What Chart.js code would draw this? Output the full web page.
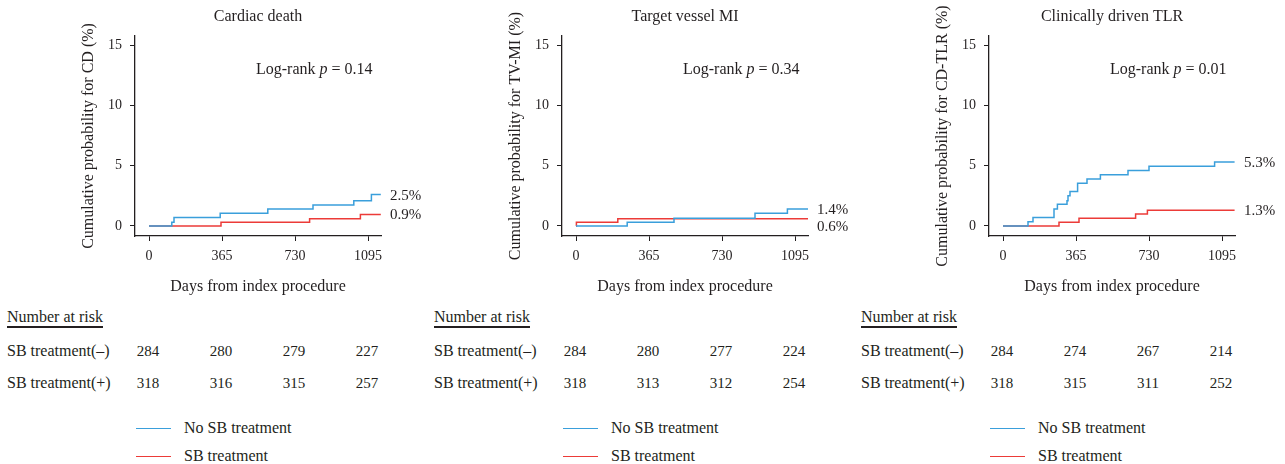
<!DOCTYPE html>
<html>
<head>
<meta charset="utf-8">
<script src="https://cdn.jsdelivr.net/npm/chart.js@4.4.0/dist/chart.umd.min.js"></script>
<style>
  html, body { margin: 0; padding: 0; background: #fff; }
  body { width: 1285px; height: 464px; position: relative; overflow: hidden;
         font-family: 'Liberation Serif', 'Times New Roman', serif; color: #231f20; }
  .cv { position: absolute; top: 0; width: 427px; height: 300px; }
  .t { position: absolute; white-space: nowrap; transform: translateY(-50%); font-size: 16px; line-height: 18px; }
  .n { position: absolute; white-space: nowrap; transform: translate(-50%, -50%); font-size: 15px; line-height: 18px; }
  .hdr { text-decoration: underline; text-decoration-thickness: 1.5px; text-underline-offset: 4px; }
  .lg { position: absolute; height: 0; border-top: 1.3px solid; width: 35px; }
</style>
</head>
<body>
<canvas id="c0" class="cv" width="427" height="300" style="left:0px"></canvas>
<canvas id="c1" class="cv" width="427" height="300" style="left:427px"></canvas>
<canvas id="c2" class="cv" width="427" height="300" style="left:854px"></canvas>
<div id="extra"></div>
<script>
// ---------- data ----------
const xTicks = [0, 365, 730, 1095];
const yTicks = [0, 5, 10, 15];
const panelTitles = ['Cardiac death', 'Target vessel MI', 'Clinically driven TLR'];
const yTitles = ['Cumulative probability for CD (%)', 'Cumulative probability for TV-MI (%)', 'Cumulative probability for CD-TLR (%)'];
const xTitle = 'Days from index procedure';
const pValues = ['0.14', '0.34', '0.01'];
const seriesNames = ['No SB treatment', 'SB treatment'];
const riskRowLabels = ['SB treatment(\u2013)', 'SB treatment(+)'];

// Kaplan-Meier step curves (day of event, cumulative %)
const cdNoDays = [0, 114, 125, 356, 594, 820, 1024, 1112, 1159];
const cdNoVals = [0, 0.3, 0.7, 1.05, 1.4, 1.75, 2.1, 2.6, 2.6];
const cdSbDays = [0, 360, 803, 1057, 1159];
const cdSbVals = [0, 0.3, 0.6, 0.95, 0.95];

const miNoDays = [0, 256, 490, 895, 1057, 1160];
const miNoVals = [0, 0.3, 0.65, 1.05, 1.4, 1.4];
const miSbDays = [0, 2, 209, 1160];
const miSbVals = [0, 0.3, 0.6, 0.6];

const tlrNoDays = [0, 125, 150, 255, 272, 320, 325, 335, 373, 420, 487, 625, 730, 1058, 1158];
const tlrNoVals = [0, 0.35, 0.7, 1.4, 1.8, 2.1, 2.5, 2.85, 3.55, 3.9, 4.25, 4.6, 4.95, 5.3, 5.3];
const tlrSbDays = [0, 280, 380, 663, 722, 1158];
const tlrSbVals = [0, 0.3, 0.65, 1.0, 1.3, 1.3];

const endLabelsNo = ['2.5%', '1.4%', '5.3%'];
const endLabelsSb = ['0.9%', '0.6%', '1.3%'];

// Number at risk
const riskNo = [[284, 280, 279, 227], [284, 280, 277, 224], [284, 274, 267, 214]];
const riskSb = [[318, 316, 315, 257], [318, 313, 312, 254], [318, 315, 311, 252]];

// ---------- style ----------
const BLUE = '#3a9fdb';
const RED = '#ec3b38';
const INK = '#231f20';
const FONT = "'Liberation Serif', 'Times New Roman', serif";

const curves = [
  [[cdNoDays, cdNoVals], [cdSbDays, cdSbVals]],
  [[miNoDays, miNoVals], [miSbDays, miSbVals]],
  [[tlrNoDays, tlrNoVals], [tlrSbDays, tlrSbVals]]
];

function pts(days, vals) { return days.map((d, i) => ({ x: d, y: vals[i] })); }

const annot = {
  id: 'annot',
  afterDatasetsDraw(chart, args, opts) {
    const ctx = chart.ctx, ca = chart.chartArea, ys = chart.scales.y;
    ctx.save();
    ctx.fillStyle = INK;
    ctx.textBaseline = 'middle';
    ctx.textAlign = 'left';
    // log-rank text
    const normal = '16px ' + FONT, ital = 'italic 16px ' + FONT;
    const parts = [['Log-rank ', normal], ['p', ital], [' = ' + opts.p, normal]];
    let x = ca.left + 121;
    const y = 70;
    parts.forEach(([s, f]) => { ctx.font = f; ctx.fillText(s, x, y); x += ctx.measureText(s).width; });
    // end labels
    ctx.font = '15px ' + FONT;
    const ds = chart.data.datasets;
    const lastNo = ds[0].data[ds[0].data.length - 1].y;
    const lastSb = ds[1].data[ds[1].data.length - 1].y;
    let yNo = ys.getPixelForValue(lastNo) + 1;
    let ySb = ys.getPixelForValue(lastSb) + 1;
    if (ySb - yNo < 17) ySb = yNo + 17;
    ctx.fillText(opts.labNo, ca.right + 9, yNo);
    ctx.fillText(opts.labSb, ca.right + 9, ySb);
    ctx.restore();
  }
};

const charts = [];
for (let i = 0; i < 3; i++) {
  const ctx = document.getElementById('c' + i);
  const chart = new Chart(ctx, {
    type: 'line',
    data: {
      datasets: [
        { label: seriesNames[0], data: pts(curves[i][0][0], curves[i][0][1]), borderColor: BLUE, borderWidth: 1.5, stepped: 'before', pointRadius: 0, fill: false },
        { label: seriesNames[1], data: pts(curves[i][1][0], curves[i][1][1]), borderColor: RED, borderWidth: 1.5, stepped: 'before', pointRadius: 0, fill: false }
      ]
    },
    options: {
      responsive: false,
      animation: false,
      events: [],
      layout: { padding: { left: 70, right: 46, top: 0, bottom: 0 } },
      plugins: {
        legend: { display: false },
        tooltip: { enabled: false },
        title: { display: true, fullSize: false, text: panelTitles[i], color: INK, font: { family: FONT, size: 16, weight: 'normal', lineHeight: 1.2 }, padding: { top: 7.5, bottom: 9.3 } },
        annot: { p: pValues[i], labNo: endLabelsNo[i], labSb: endLabelsSb[i] }
      },
      scales: {
        x: {
          type: 'linear', min: -70, max: 1160,
          afterBuildTicks: s => { s.ticks = xTicks.map(v => ({ value: v })); },
          afterFit: s => { s.height = 64; },
          grid: { display: true, drawOnChartArea: false, drawTicks: true, tickLength: 5, color: INK, lineWidth: 1 },
          border: { display: true, color: INK, width: 1.3 },
          ticks: { color: INK, font: { family: FONT, size: 14 }, padding: 7, maxRotation: 0, autoSkip: false, callback: v => String(v) },
          title: { display: true, text: xTitle, color: INK, font: { family: FONT, size: 16, lineHeight: 1.2 }, padding: { top: 0, bottom: 3.4 } }
        },
        y: {
          type: 'linear', min: -0.83, max: 15.75,
          afterBuildTicks: s => { s.ticks = yTicks.map(v => ({ value: v })); },
          afterFit: s => { s.width = 65; },
          grid: { display: true, drawOnChartArea: false, drawTicks: true, tickLength: 5, color: INK, lineWidth: 1 },
          border: { display: true, color: INK, width: 1.3 },
          ticks: { color: INK, font: { family: FONT, size: 14 }, padding: 8, callback: v => String(v) },
          title: { display: true, text: yTitles[i], color: INK, font: { family: FONT, size: 16, lineHeight: 1.2 }, padding: { top: 9, bottom: 0 } }
        }
      }
    },
    plugins: [annot]
  });
  charts.push(chart);
}

// ---------- number-at-risk tables and legends (HTML text) ----------
const extra = document.getElementById('extra');
function add(cls, txt, left, top, style) {
  const d = document.createElement('div');
  d.className = cls;
  if (txt !== null) d.innerHTML = txt;
  d.style.left = left + 'px';
  d.style.top = top + 'px';
  if (style) Object.assign(d.style, style);
  extra.appendChild(d);
  return d;
}
charts.forEach((chart, i) => {
  const off = i * 427;
  const axisX = off + chart.chartArea.left;
  const xs = chart.scales.x;
  add('t', '<span class="hdr">Number at risk</span>', axisX - 128, 317);
  add('t', riskRowLabels[0], axisX - 128, 350.5);
  add('t', riskRowLabels[1], axisX - 128, 382.5);
  xTicks.forEach((v, k) => {
    const px = off + xs.getPixelForValue(v) - 1;
    add('n', String(riskNo[i][k]), px, 350.5);
    add('n', String(riskSb[i][k]), px, 382.5);
  });
  add('lg', null, axisX + 1, 428, { borderColor: BLUE });
  add('lg', null, axisX + 1, 456, { borderColor: RED });
  add('t', seriesNames[0], axisX + 49, 428);
  add('t', seriesNames[1], axisX + 49, 456);
});
</script>
</body>
</html>
